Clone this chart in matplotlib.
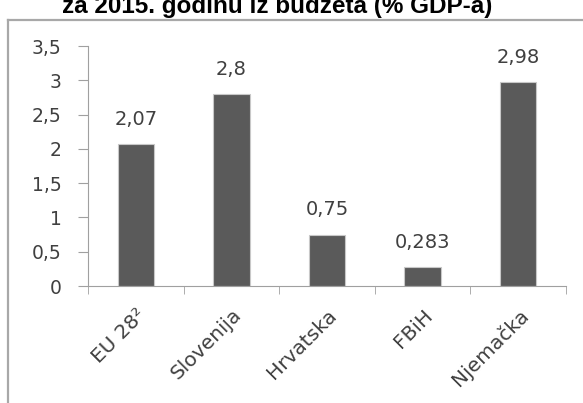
import matplotlib.pyplot as plt
from matplotlib.ticker import FixedLocator
from matplotlib.transforms import ScaledTranslation

categories = ["EU 28²", "Slovenija", "Hrvatska", "FBiH", "Njemačka"]
values = [2.07, 2.8, 0.75, 0.283, 2.98]
value_labels = ["2,07", "2,8", "0,75", "0,283", "2,98"]
y_ticks = [0, 0.5, 1, 1.5, 2, 2.5, 3, 3.5]
y_tick_labels = ["0", "0,5", "1", "1,5", "2", "2,5", "3", "3,5"]

txt = "#404040"
W, H = 583, 403
fig = plt.figure(figsize=(5.83, 4.03), dpi=100)

# outer frame of the chart area (right and bottom are cut off in the source)
fig.add_artist(plt.Line2D([8 / W, 8 / W], [0, 1 - 20 / H], color="#a8a8a8", lw=1.6))
fig.add_artist(plt.Line2D([8 / W, 1], [1 - 20 / H, 1 - 20 / H], color="#a8a8a8", lw=1.6))

# title, partly clipped by the top edge as in the source
fig.text(277 / W, 1 - 13 / H, "za 2015. godinu iz budžeta (% GDP-a)", ha="center",
         va="baseline", fontsize=17.5, fontweight="bold", family="Liberation Sans")

ax = fig.add_axes([88 / W, 1 - 286 / H, (566 - 88) / W, (286 - 46) / H])
x = range(len(categories))
ax.bar(x, values, width=0.38, color="#5a5a5a", edgecolor="#c8c8c8", linewidth=0.8)
for xi, v, lab in zip(x, values, value_labels):
    ax.text(xi, v + 0.22, lab, ha="center", va="bottom", fontsize=14, color=txt,
            family="DejaVu Sans")

ax.set_xlim(-0.5, len(categories) - 0.5)
ax.set_ylim(0, 3.5)
ax.set_yticks(y_ticks)
ax.set_yticklabels(y_tick_labels, fontsize=13.5, color=txt)
ax.set_xticks(list(x))
ax.set_xticklabels(categories, rotation=45, ha="right", rotation_mode="anchor",
                   fontsize=14.5, color=txt)
shift = ScaledTranslation(-11 / 100, -2 / 100, fig.dpi_scale_trans)
for lbl in ax.get_xticklabels():
    lbl.set_transform(lbl.get_transform() + shift)
ax.xaxis.set_minor_locator(FixedLocator([i - 0.5 for i in range(len(categories) + 1)]))
ax.tick_params(axis="x", which="major", length=0, pad=14)
ax.tick_params(axis="x", which="minor", length=6, color="#a0a0a0")
ax.tick_params(axis="y", length=7, color="#a0a0a0", pad=12)
for s in ["top", "right"]:
    ax.spines[s].set_visible(False)
for s in ["left", "bottom"]:
    ax.spines[s].set_color("#a0a0a0")

fig.savefig("out.png", dpi=100)
